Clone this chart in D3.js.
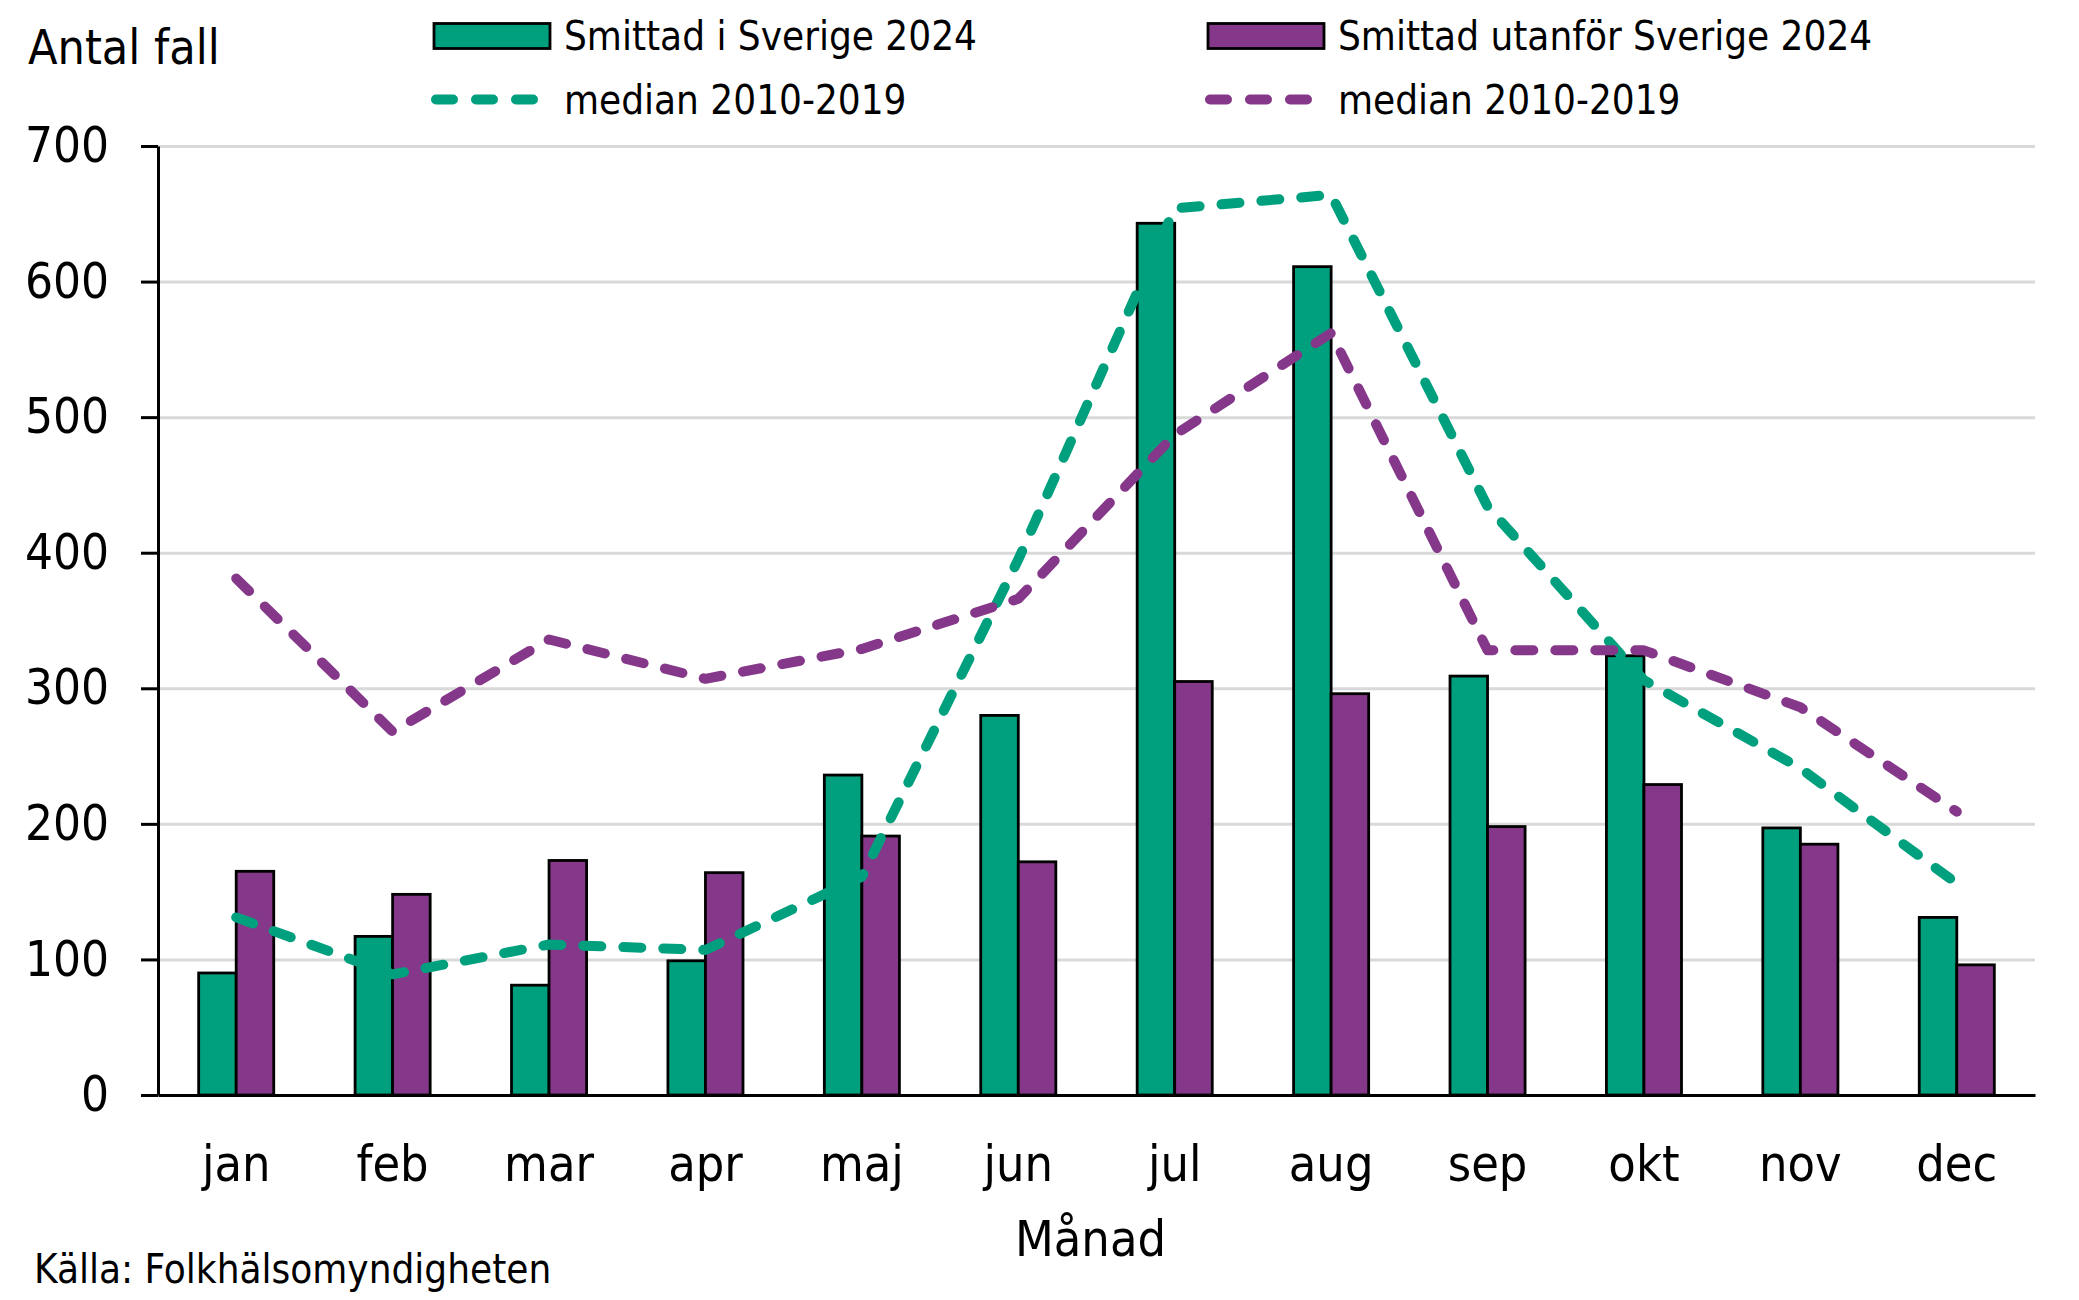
<!DOCTYPE html>
<html>
<head>
<meta charset="utf-8">
<script src="https://cdn.jsdelivr.net/npm/d3@7"></script>
<style>
  body { margin: 0; background: #fff; }
  text { font-family: "DejaVu Sans Condensed", "DejaVu Sans", sans-serif; font-stretch: condensed; fill: #000; }
</style>
</head>
<body>
<div id="chart"></div>
<script>
// data
const months = ["jan", "feb", "mar", "apr", "maj", "jun", "jul", "aug", "sep", "okt", "nov", "dec"];
const sverige2024 = [90, 117, 81, 99, 236, 280, 643, 611, 309, 324, 197, 131];
const utanfor2024 = [165, 148, 173, 164, 191, 172, 305, 296, 198, 229, 185, 96];
const medianSverige = [131, 89, 111, 107, 161, 395, 654, 664, 434, 306, 241, 156];
const medianUtanfor = [381, 268, 336, 307, 329, 366, 487, 562, 328, 328, 286, 209];
const yTicks = [0, 100, 200, 300, 400, 500, 600, 700];

const green = "#00A07E";
const purple = "#85388A";

let w = 2079;
let h = 1300;
let plotLeft = 158, plotRight = 2035, plotTop = 146, plotBottom = 1095;

const svg = d3.select("#chart").
append("svg").
attr("width", w).
attr("height", h);

// scales
const x = d3.scaleBand().
domain(months).
range([plotLeft, plotRight]).
paddingInner(0.52).
paddingOuter(0.26);

const xSeries = d3.scaleBand().
domain(["sverige", "utanfor"]).
range([0, x.bandwidth()]);

const y = d3.scaleLinear().
domain([0, 700]).
range([plotBottom, plotTop]);

// gridlines
svg.append("g").
attr("transform", "translate(" + plotLeft + ",0)").
call(d3.axisLeft(y).tickValues(yTicks.filter(d => d > 0)).tickSize(-(plotRight - plotLeft)).tickFormat("")).
call(g => g.select(".domain").remove()).
call(g => g.selectAll("line").attr("stroke", "#D9D9D9").attr("stroke-width", 3));

// bars
const groups = svg.selectAll(".month").
data(months).
enter().
append("g").
attr("class", "month").
attr("transform", d => "translate(" + x(d) + ",0)");

groups.append("rect").
attr("x", xSeries("sverige")).
attr("y", (d, i) => y(sverige2024[i])).
attr("width", xSeries.bandwidth()).
attr("height", (d, i) => y(0) - y(sverige2024[i])).
attr("fill", green).
attr("stroke", "#000").
attr("stroke-width", 2.8);

groups.append("rect").
attr("x", xSeries("utanfor")).
attr("y", (d, i) => y(utanfor2024[i])).
attr("width", xSeries.bandwidth()).
attr("height", (d, i) => y(0) - y(utanfor2024[i])).
attr("fill", purple).
attr("stroke", "#000").
attr("stroke-width", 2.8);

// median lines
const line = d3.line().
x((d, i) => x(months[i]) + x.bandwidth() / 2).
y(d => y(d));

[[medianSverige, green], [medianUtanfor, purple]].forEach(([vals, col]) => {
  svg.append("path").
  datum(vals).
  attr("d", line).
  attr("fill", "none").
  attr("stroke", col).
  attr("stroke-width", 10).
  attr("stroke-linecap", "round").
  attr("stroke-linejoin", "round").
  attr("stroke-dasharray", "18 22");
});

// axes
svg.append("g").
attr("transform", "translate(" + plotLeft + ",0)").
call(d3.axisLeft(y).tickValues(yTicks).tickSize(17).tickSizeOuter(0).tickPadding(32)).
call(g => g.selectAll("path, line").attr("stroke", "#000").attr("stroke-width", 3)).
call(g => g.selectAll("text").attr("font-size", 49).attr("font-family", null));

svg.append("g").
attr("transform", "translate(0," + plotBottom + ")").
call(d3.axisBottom(x).tickSize(0).tickSizeOuter(0).tickPadding(50)).
call(g => g.select(".domain").attr("stroke", "#000").attr("stroke-width", 3)).
call(g => g.selectAll("text").attr("font-size", 50).attr("font-family", null));

// titles
svg.append("text").
attr("x", 28).
attr("y", 64).
attr("font-size", 48).
text("Antal fall");

svg.append("text").
attr("x", (plotLeft + plotRight) / 2 - 6).
attr("y", 1256).
attr("text-anchor", "middle").
attr("font-size", 50).
text("Månad");

svg.append("text").
attr("x", 34).
attr("y", 1283).
attr("font-size", 40).
text("Källa: Folkhälsomyndigheten");

// legend
const legendItems = [
  {label: "Smittad i Sverige 2024", color: green, type: "bar", lx: 434, ly: 36},
  {label: "Smittad utanför Sverige 2024", color: purple, type: "bar", lx: 1208, ly: 36},
  {label: "median 2010-2019", color: green, type: "line", lx: 434, ly: 99.5},
  {label: "median 2010-2019", color: purple, type: "line", lx: 1208, ly: 99.5}
];

const legend = svg.append("g").attr("id", "legend");

legendItems.forEach(it => {
  if (it.type === "bar") {
    legend.append("rect").
    attr("x", it.lx).
    attr("y", it.ly - 12.5).
    attr("width", 116).
    attr("height", 25).
    attr("fill", it.color).
    attr("stroke", "#000").
    attr("stroke-width", 2.8);
  } else {
    legend.append("line").
    attr("x1", it.lx + 2).
    attr("x2", it.lx + 102).
    attr("y1", it.ly).
    attr("y2", it.ly).
    attr("stroke", it.color).
    attr("stroke-width", 10).
    attr("stroke-linecap", "round").
    attr("stroke-dasharray", "17 23");
  }
  legend.append("text").
  attr("x", it.lx + 130).
  attr("y", it.ly + 14).
  attr("font-size", 40).
  text(it.label);
});
</script>
</body>
</html>
